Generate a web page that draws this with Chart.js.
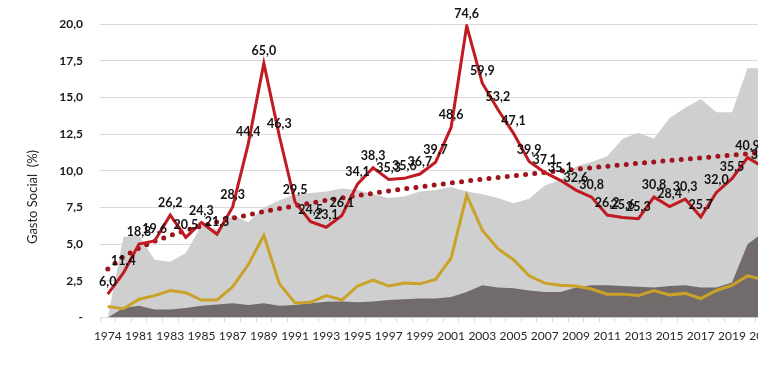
<!DOCTYPE html>
<html>
<head>
<meta charset="utf-8">
<script src="https://cdn.jsdelivr.net/npm/chart.js@4/dist/chart.umd.min.js"></script>
<style>
  html, body { margin: 0; padding: 0; background: #ffffff; overflow: hidden; }
  #wrap { width: 790px; height: 369px; }
</style>
</head>
<body>
<div id="wrap"><canvas id="grafico" width="790" height="369"></canvas></div>
<script>
// categorias (1974 y luego 1980-2021)
const anios = ['1974', '1980', '1981', '1982', '1983', '1984', '1985', '1986', '1987', '1988',
  '1989', '1990', '1991', '1992', '1993', '1994', '1995', '1996', '1997', '1998',
  '1999', '2000', '2001', '2002', '2003', '2004', '2005', '2006', '2007', '2008',
  '2009', '2010', '2011', '2012', '2013', '2014', '2015', '2016', '2017', '2018',
  '2019', '2020', '2021'];

// area gris clara (%)
const areaClara = [0, 5.5, 5.6, 3.95, 3.8, 4.4, 6.3, 6.0, 7.0, 6.5,
  7.5, 8.0, 8.4, 8.5, 8.6, 8.8, 8.7, 8.4, 8.15, 8.25,
  8.6, 8.7, 8.9, 8.6, 8.4, 8.15, 7.8, 8.1, 9.0, 9.4,
  10.3, 10.6, 11.0, 12.2, 12.6, 12.2, 13.6, 14.3, 14.9, 14.0,
  14.0, 17.0, 17.0];

// area gris oscura (%)
const areaOscura = [0, 0.65, 0.8, 0.55, 0.55, 0.65, 0.8, 0.9, 0.97, 0.86,
  0.97, 0.8, 0.86, 0.97, 1.08, 1.1, 1.05, 1.1, 1.2, 1.25,
  1.3, 1.3, 1.4, 1.75, 2.2, 2.05, 2.0, 1.85, 1.75, 1.75,
  2.05, 2.2, 2.2, 2.15, 2.1, 2.05, 2.15, 2.2, 2.05, 2.05,
  2.4, 5.0, 5.8];

// linea dorada (%)
const lineaDorada = [0.75, 0.6, 1.25, 1.5, 1.85, 1.7, 1.2, 1.2, 2.1, 3.6,
  5.6, 2.3, 1.0, 1.05, 1.5, 1.2, 2.15, 2.55, 2.15, 2.35,
  2.3, 2.6, 4.05, 8.35, 5.95, 4.7, 3.95, 2.85, 2.35, 2.2,
  2.15, 1.95, 1.6, 1.6, 1.5, 1.85, 1.55, 1.65, 1.3, 1.85,
  2.2, 2.85, 2.6];

// linea roja, con sus etiquetas (eje secundario oculto 0-75)
const lineaRoja = [6.0, 11.4, 18.8, 19.6, 26.2, 20.5, 24.3, 21.3, 28.3, 44.4,
  65.0, 46.3, 29.5, 24.5, 23.1, 26.1, 34.1, 38.3, 35.3, 35.6,
  36.7, 39.7, 48.6, 74.6, 59.9, 53.2, 47.1, 39.9, 37.1, 35.1,
  32.6, 30.8, 26.2, 25.6, 25.3, 30.8, 28.4, 30.3, 25.7, 32.0,
  35.5, 40.9, 38.5];

const yTicks = [0, 2.5, 5, 7.5, 10, 12.5, 15, 17.5, 20];

// tendencia potencial (como la de Excel) sobre la linea roja
function tendenciaPotencial(valores) {
  const n = valores.length;
  let sx = 0, sy = 0, sxx = 0, sxy = 0;
  valores.forEach((v, i) => {
    const x = Math.log(i + 1), y = Math.log(v);
    sx += x; sy += y; sxx += x * x; sxy += x * y;
  });
  const b = (n * sxy - sx * sy) / (n * sxx - sx * sx);
  const a = Math.exp((sy - b * sx) / n);
  return valores.map((_, i) => a * Math.pow(i + 1, b));
}
const tendencia = tendenciaPotencial(lineaRoja);

const fmt = v => v.toFixed(1).replace('.', ',');
const FUENTE = "Lato, 'Open Sans', sans-serif";

// etiquetas de la linea roja + titulo del eje
const extras = {
  id: 'extras',
  afterDatasetsDraw(chart) {
    const ctx = chart.ctx;
    const meta = chart.getDatasetMeta(0);
    ctx.save();
    ctx.font = `bold 12.5px ${FUENTE}`;
    ctx.fillStyle = '#111111';
    ctx.textAlign = 'center';
    ctx.textBaseline = 'alphabetic';
    meta.data.forEach((pt, i) => {
      ctx.fillText(fmt(lineaRoja[i]), pt.x, pt.y - 8);
    });
    ctx.restore();

    ctx.save();
    ctx.font = `13px ${FUENTE}`;
    ctx.fillStyle = '#262626';
    ctx.textAlign = 'center';
    ctx.textBaseline = 'middle';
    ctx.translate(33, 197);
    ctx.rotate(-Math.PI / 2);
    ctx.fillText('Gasto Social  (%)', 0, 0);
    ctx.restore();
  }
};

new Chart(document.getElementById('grafico').getContext('2d'), {
  type: 'line',
  data: {
    labels: anios,
    datasets: [
      {
        data: lineaRoja, yAxisID: 'y2', order: 0,
        borderColor: '#c01a22', borderWidth: 3, pointRadius: 0, tension: 0, fill: false
      },
      {
        data: tendencia, yAxisID: 'y2', order: 1,
        borderColor: '#9e141c', borderWidth: 5, borderDash: [0, 9.2], borderCapStyle: 'round',
        pointRadius: 0, tension: 0, fill: false
      },
      {
        data: lineaDorada, yAxisID: 'y', order: 2,
        borderColor: '#c9a227', borderWidth: 3, pointRadius: 0, tension: 0, fill: false
      },
      {
        data: areaOscura, yAxisID: 'y', order: 3,
        borderWidth: 0, borderColor: 'rgba(0,0,0,0)', backgroundColor: '#716b6c',
        pointRadius: 0, tension: 0, fill: 'origin'
      },
      {
        data: areaClara, yAxisID: 'y', order: 4,
        borderWidth: 0, borderColor: 'rgba(0,0,0,0)', backgroundColor: '#cfcfcf',
        pointRadius: 0, tension: 0, fill: 'origin'
      }
    ]
  },
  options: {
    responsive: false,
    animation: false,
    layout: { padding: { top: 21, bottom: 20, left: 0, right: 19 } },
    plugins: {
      legend: { display: false },
      tooltip: { enabled: false }
    },
    scales: {
      x: {
        offset: true,
        grid: { display: true, drawOnChartArea: false, drawTicks: true, tickLength: 5, color: '#d9d9d9', offset: true },
        border: { display: true, color: '#d9d9d9' },
        ticks: {
          autoSkip: false, maxRotation: 0, padding: 6,
          color: '#262626', font: { family: FUENTE, size: 12 },
          callback: (v, i) => (i % 2 === 0 ? anios[i] : '')
        }
      },
      y: {
        min: 0, max: 20,
        afterBuildTicks: s => { s.ticks = yTicks.map(v => ({ value: v })); },
        afterFit: s => { s.width = 100; },
        grid: { color: '#d9d9d9', drawTicks: false },
        border: { display: false },
        ticks: {
          padding: 17, color: '#1a1a1a', font: { family: FUENTE, size: 12, weight: 'bold' },
          callback: v => (v === 0 ? '-' : fmt(v))
        }
      },
      y2: {
        display: false, min: 0, max: 75, position: 'right'
      }
    }
  },
  plugins: [extras]
});
</script>
</body>
</html>
